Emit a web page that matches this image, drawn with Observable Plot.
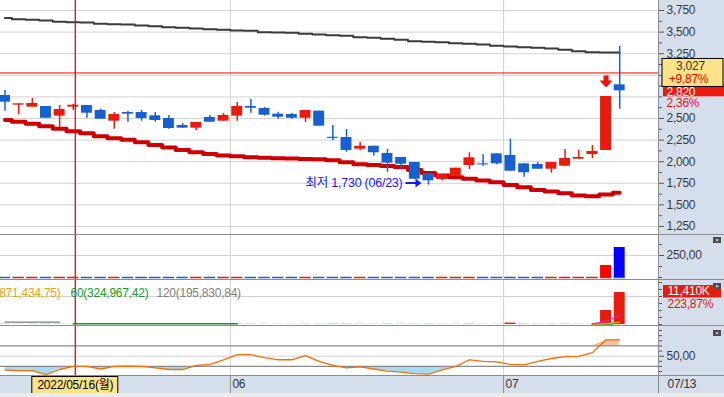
<!DOCTYPE html>
<html><head><meta charset="utf-8">
<script src="https://cdn.jsdelivr.net/npm/d3@7"></script>
<script src="https://cdn.jsdelivr.net/npm/@observablehq/plot@0.6"></script>
<style>
html,body{margin:0;padding:0;background:#fff;}
#chart{position:relative;width:724px;height:397px;overflow:hidden;background:#fff;}
.bg{position:absolute;background:#d5dfec;}
.sep{position:absolute;left:0;width:724px;height:0;border-top:1px solid #8c8c8c;z-index:5}
.vsep{position:absolute;left:658px;top:0;width:0;height:393px;border-left:1px solid #8c8c8c;z-index:5}
.foot{position:absolute;left:0;top:393px;width:724px;height:4px;background:#ebebeb;z-index:5}
.close{position:absolute;left:713px;width:8px;height:6px;background:#4a4a4a;color:#fff;font:6px/6px sans-serif;text-align:center;z-index:6}
svg{position:absolute;left:0;}
</style></head>
<body>
<div id="chart">
  <div class="bg" style="left:658px;top:0;width:66px;height:393px"></div>
  <div class="bg" style="left:0;top:375px;width:724px;height:18px"></div>
</div>
<script>
// ---------- data ----------
const dates = ["2022-05-09","2022-05-10","2022-05-11","2022-05-12","2022-05-13","2022-05-16","2022-05-17","2022-05-18","2022-05-19","2022-05-20",
"2022-05-23","2022-05-24","2022-05-25","2022-05-26","2022-05-27","2022-05-30","2022-05-31",
"2022-06-02","2022-06-03","2022-06-07","2022-06-08","2022-06-09","2022-06-10","2022-06-13","2022-06-14","2022-06-15","2022-06-16","2022-06-17",
"2022-06-20","2022-06-21","2022-06-22","2022-06-23","2022-06-24","2022-06-27","2022-06-28","2022-06-29","2022-06-30",
"2022-07-01","2022-07-04","2022-07-05","2022-07-06","2022-07-07","2022-07-08","2022-07-11","2022-07-12","2022-07-13"];
const open  = [2766,2654,2631,2639,2527,2631,2650,2593,2469,2569, 2569,2531,2500,2419,2388,2512,2469,2527,2639,2616, 2550,2546,2503,2585,2283,2280,2145,2179,2095,2049, 1991,1863,1794,1832,1956,1975,2091,2072,1975,1968, 1913,1948,2029,2083,2130,2890];
const high  = [2824,2670,2731,2639,2650,2666,2650,2608,2569,2581, 2593,2569,2535,2442,2454,2535,2558,2685,2720,2627, 2573,2558,2593,2585,2419,2373,2226,2179,2141,2049, 1991,1863,1848,1925,2103,2080,2091,2260,1975,1991, 1991,2141,2133,2188,2755,3333];
const low   = [2584,2543,2631,2503,2392,2593,2503,2492,2376,2457, 2469,2457,2376,2388,2361,2457,2469,2469,2561,2527, 2492,2492,2454,2411,2242,2110,2127,2064,1878,1918, 1797,1730,1779,1832,1910,1948,1964,1890,1820,1913, 1867,1948,2029,2034,2130,2608];
const close = [2689,2670,2674,2503,2604,2654,2561,2492,2546,2550, 2500,2477,2384,2388,2454,2457,2535,2639,2619,2538, 2515,2503,2593,2411,2270,2130,2179,2103,1983,1971, 1797,1779,1848,1925,2045,1963,1975,1890,1872,1913, 1991,2037,2049,2118,2755,2820];
const maLong  = [3663,3649,3642,3634,3619,3615,3611,3596,3591,3588,3576,3568,3557,3550,3542,3534,3527,3519,3515,3499,3495,3492,3480,3472,3464,3457,3441,3434,3422,3411,3395,3388,3383,3372,3365,3356,3341,3333,3325,3318,3310,3295,3279,3267,3264,3264];
const maShort = [2483,2462,2440,2410,2382,2353,2330,2295,2272,2253,2225,2193,2164,2135,2109,2089,2072,2062,2052,2046,2039,2036,2032,2029,2016,1993,1970,1961,1950,1939,1904,1868,1840,1821,1802,1782,1762,1730,1704,1672,1655,1634,1609,1601,1620,1640];
const indicator2 = [0,0,0,0,0,0,0,0,0,0, 0,0,0,0,0,0,0,0,0,0, 0,0,0,0,0,0,0,0,0,0, 0,0,0,0,0,0,0,0,0,0, 0,0,0,0,136,341];
const volumeK = [62,48,55,70,66,45,52,58,71,40, 44,39,68,35,50,42,47,81,60,43, 38,36,55,49,90,85,58,47,77,52, 64,70,46,53,88,41,39,500,72,44, 51,66,48,57,5000,11410];
const volMA5   = [null,null,null,null,null,null,null,null,null,null, null,null,null,null,null,null,null,null,null,null, null,null,null,null,null,null,null,null,null,null, null,null,null,null,null,null,null,null,null,null, null,null,null,200,1080,3310];
const volMA20  = [null,null,null,null,null,null,null,null,null,null, null,null,null,null,null,null,null,null,null,null, null,null,null,null,null,null,null,null,null,null, null,null,null,null,null,null,null,null,null,null, null,null,null,50,300,870];
const volMA60  = [null,null,null,null,null,250,250,250,250,250, 250,250,250,250,250,250,250,250,null,null, null,null,null,null,null,null,null,null,null,null, null,null,null,null,null,null,null,null,null,null, null,null,null,50,135,325];
const volMA120 = [820,820,820,820,820,null,null,null,null,null, null,null,null,null,null,null,null,null,null,null, null,null,null,null,null,null,null,null,null,null, null,null,null,null,null,null,null,null,null,null, null,null,null,null,null,null];
const volLegend = [{n:20, v:"871,434,75", c:"#f0a000"}, {n:60, v:"324,967,42", c:"#129a2a"}, {n:120, v:"195,830,84", c:"#808080"}];
const volChangeLabel = "223,87%";
const osc = [23,22,22,14,24,30,30,25,30,30.5, 30,27,24,24,32,34,43,53,53,47, 43,43,51,40,32,27,29,25,21,19, 16,15,23.5,30,43,40,39,34,33,40, 45.5,49,49.5,57,82,82];
const priceTicks = [1250,1500,1750,2000,2250,2500,2750,3000,3250,3500,3750];
const priceLabelTicks = [1250,1500,1750,2000,2250,2500,3250,3500,3750];
const priceMinor = [1375,1625,1875,2125,2375,2625,2875,3125,3375,3625];
const crossDate = "2022-05-16";
const crossPrice = 3027;
const signalDate = "2022-07-12";

// ---------- layout ----------
const W = 724, MR = 66, STEP = 13.66, X0 = 4.5;
const XDOM = [-X0 / STEP, (W - MR - X0) / STEP];
const FONT = '"Liberation Sans","Noto Sans CJK KR",sans-serif';
const UP = "#e81c0c", DOWN = "#1660d0", GRID = "#d2d2d2", CROSS = "#ff0000";
const chart = document.getElementById("chart");

const rows = dates.map((d, i) => ({i, date: d, open: open[i], high: high[i], low: low[i], close: close[i],
  maLong: maLong[i], maShort: maShort[i], ind: indicator2[i], vol: volumeK[i],
  m5: volMA5[i], m20: volMA20[i], m60: volMA60[i], m120: volMA120[i], osc: osc[i]}));
const col = d => d.close >= d.open ? UP : DOWN;
const monthStarts = rows.filter((d, i) => i > 0 && d.date.slice(5, 7) !== dates[i - 1].slice(5, 7)).map(d => d.i);
const crossIdx = dates.indexOf(crossDate);
const last = rows[rows.length - 1], prev = rows[rows.length - 2];
const minRow = rows.reduce((a, b) => b.low < a.low ? b : a);
const fmt = d3.format(",");
const dec2 = v => d3.format(".2f")(v).replace(".", ",");
const pct = v => d3.format(".2f")(v).replace(".", ",") + "%";
const lowLabel = `최저 ${fmt(minRow.low)} (${minRow.date.slice(5).replace("-", "/")})`;
const wk = ["일","월","화","수","목","금","토"];
const crossLabel = crossDate.replace(/-/g, "/") + "(" + wk[new Date(crossDate + "T00:00:00").getDay()] + ")";

const downArrow = {draw(c){c.moveTo(-2.5,-6);c.lineTo(2.5,-6);c.lineTo(2.5,-1);c.lineTo(6.5,-1);c.lineTo(0,6);c.lineTo(-6.5,-1);c.lineTo(-2.5,-1);c.closePath();}};
const rightArrow = {draw(c){c.moveTo(-16,-1);c.lineTo(-6,-1);c.lineTo(-6,-4.5);c.lineTo(0,0);c.lineTo(-6,4.5);c.lineTo(-6,1);c.lineTo(-16,1);c.closePath();}};

function panel(top, height, ydom, marks) {
  const opts = {width: W, height, marginLeft: 0, marginRight: MR, marginTop: 0, marginBottom: 0,
    x: {type: "linear", domain: XDOM, axis: null},
    color: {type: "identity"},
    style: {background: "transparent", fontFamily: FONT, fontSize: "12px", color: "#333", letterSpacing: "-0.25px"},
    marks};
  if (ydom) opts.y = {type: "linear", domain: ydom, axis: null};
  const svg = Plot.plot(opts);
  svg.style.position = "absolute"; svg.style.left = "0px"; svg.style.top = top + "px";
  chart.appendChild(svg);
}
const common = () => [Plot.ruleX(monthStarts, {x: d => d - 0.5, stroke: GRID})];
const crossX = () => Plot.ruleX([crossIdx], {x: d => d, dx: 2, stroke: CROSS, strokeWidth: 1.3});

// ---------- main price panel ----------
panel(0, 234, [1157.4, 3865.7], [
  Plot.ruleY(priceTicks, {stroke: GRID}),
  ...common(),
  Plot.line(rows, {x: "i", y: "maLong", stroke: "#3a3a3a", strokeWidth: 2, curve: "step"}),
  Plot.line(rows, {x: "i", y: "maShort", stroke: "#cc0000", strokeWidth: 4, curve: "step"}),
  Plot.ruleX(rows, {x: "i", y1: "low", y2: "high", stroke: col, strokeWidth: 1.5}),
  Plot.rect(rows, {x1: d => d.i - 0.4, x2: d => d.i + 0.4, y1: "open", y2: "close", fill: col}),
  crossX(),
  Plot.ruleY([crossPrice], {stroke: CROSS}),
  Plot.text([minRow], {x: "i", y: "low", text: () => lowLabel, textAnchor: "end", dx: -26, dy: -2, fill: "#1818f0", fontSize: 12.5}),
  Plot.dot([minRow], {x: "i", y: "low", symbol: rightArrow, fill: "#1818f0", stroke: "none", dx: -7, dy: -2}),
  Plot.dot(rows.filter(d => d.date === signalDate), {x: "i", y: "high", symbol: downArrow, fill: "#f01010", stroke: "none", dy: -15}),
  Plot.axisY(priceLabelTicks, {anchor: "right", tickSize: 5, tickPadding: 3, tickFormat: fmt, label: null, fill: "#3a3a3a", stroke: "#555"}),
  Plot.axisY([2750, 3000, ...priceMinor], {anchor: "right", tickSize: 3, tickFormat: () => "", label: null, stroke: "#555"}),
  Plot.rect([last.close], {y1: d => d, y2: d => d, insetTop: -6, insetBottom: -6, insetLeft: 663, insetRight: -66, fill: "#ea1a0c"}),
  Plot.text([last.close], {y: d => d, frameAnchor: "right", dx: 8, dy: 1, textAnchor: "start", fill: "white", text: fmt}),
  Plot.text([last.close], {y: d => d, frameAnchor: "right", dx: 8, dy: 12, textAnchor: "start", fill: "#e81010", text: () => pct((last.close / prev.close - 1) * 100)}),
  Plot.rect([crossPrice], {y1: d => d, y2: d => d, insetTop: -14, insetBottom: -14, insetLeft: 662, insetRight: -65, fill: "#fde388", stroke: "#000"}),
  Plot.text([crossPrice], {y: d => d, frameAnchor: "right", dx: 32, dy: -7, textAnchor: "middle", fill: "#333", text: fmt}),
  Plot.text([crossPrice], {y: d => d, frameAnchor: "right", dx: 30, dy: 6, textAnchor: "middle", fill: "#e80000", text: d => "+" + pct((d / prev.close - 1) * 100)})
]);

// ---------- panel 2 ----------
panel(234, 45, [-22.7, 488.6], [
  Plot.ruleY([250], {stroke: GRID}),
  ...common(),
  crossX(),
  Plot.ruleY(rows, {y: 0, x1: d => d.i - 0.42, x2: d => d.i + 0.42, stroke: col, strokeWidth: 1.5}),
  Plot.rect(rows.filter(d => d.ind > 0), {x1: d => d.i - 0.4, x2: d => d.i + 0.4, y1: 0, y2: "ind", fill: d => d.close >= d.open ? "#ff0000" : "#0000ff"}),
  Plot.axisY([250], {anchor: "right", tickSize: 5, tickPadding: 3, tickFormat: dec2, label: null, fill: "#3a3a3a", stroke: "#555"}),
  Plot.axisY([0, 125, 375], {anchor: "right", tickSize: 3, tickFormat: () => "", label: null, stroke: "#555"})
]);

// ---------- panel 3 (volume) ----------
panel(279, 46, [-357, 16065], [
  Plot.ruleY([10000], {stroke: GRID}),
  ...common(),
  crossX(),
  Plot.rect(rows, {x1: d => d.i - 0.4, x2: d => d.i + 0.4, y1: 0, y2: "vol", fill: UP}),
  Plot.line(rows, {x: "i", y: "m120", stroke: "#808080", strokeWidth: 1.3, curve: "step"}),
  Plot.line(rows, {x: "i", y: "m60", stroke: "#129a2a", strokeWidth: 1.5, curve: "step"}),
  Plot.line(rows, {x: "i", y: "m20", stroke: "#f0a000", strokeWidth: 1.3}),
  Plot.line(rows, {x: "i", y: "m5", stroke: "#e020d0", strokeWidth: 1.3}),
  Plot.text([volLegend[0]], {frameAnchor: "top-left", dy: 9, dx: 60, textAnchor: "end", text: d => `${d.n}(${d.v})`, fill: d => d.c}),
  Plot.text([volLegend[1]], {frameAnchor: "top-left", dy: 9, dx: 70, textAnchor: "start", text: d => `${d.n}(${d.v})`, fill: d => d.c}),
  Plot.text([volLegend[2]], {frameAnchor: "top-left", dy: 9, dx: 156, textAnchor: "start", text: d => `${d.n}(${d.v})`, fill: d => d.c}),
  Plot.axisY([0, 2500, 5000, 7500, 10000, 12500, 15000], {anchor: "right", tickSize: 3, tickFormat: () => "", label: null, stroke: "#555"}),
  Plot.rect([last.vol], {y1: d => d, y2: d => d, insetTop: -7, insetBottom: -5.5, insetLeft: 663, insetRight: -63, fill: "#ea1a0c"}),
  Plot.text([last.vol], {y: d => d, dy: -1, frameAnchor: "right", dx: 9, textAnchor: "start", fill: "white", text: d => fmt(d) + "K"}),
  Plot.text([last.vol], {y: d => d, dy: 12, frameAnchor: "right", dx: 9, textAnchor: "start", fill: "#e81010", text: () => volChangeLabel})
]);

// ---------- panel 4 (oscillator) ----------
panel(325, 50, [12.3, 109.9], [
  Plot.ruleY([50], {stroke: GRID}),
  ...common(),
  Plot.areaY(rows, {x: "i", y1: 30, y2: d => Math.min(d.osc, 30), fill: "#a4dbf0"}),
  Plot.areaY(rows, {x: "i", y1: 70, y2: d => Math.max(d.osc, 70), fill: "#f6c2a2"}),
  Plot.ruleY([30, 70], {stroke: "#8a8a8a", strokeWidth: 1.3}),
  crossX(),
  Plot.line(rows, {x: "i", y: "osc", stroke: "#ff6a00", strokeWidth: 1.3}),
  Plot.axisY([50], {anchor: "right", tickSize: 5, tickPadding: 3, tickFormat: dec2, label: null, fill: "#3a3a3a", stroke: "#555"}),
  Plot.axisY([20, 30, 40, 60, 70, 80, 90, 100], {anchor: "right", tickSize: 3, tickFormat: () => "", label: null, stroke: "#555"})
]);

// ---------- x axis strip ----------
panel(375, 19, null, [
  Plot.ruleX(monthStarts, {x: d => d - 0.5, stroke: "#8c8c8c"}),
  Plot.text(monthStarts, {x: d => d - 0.5, dx: 2, textAnchor: "start", frameAnchor: "middle", dy: -1, fill: "#333", text: d => dates[d].slice(5, 7)}),
  Plot.rect([crossIdx], {x1: d => d, x2: d => d, dx: 2, insetLeft: -43, insetRight: -43, insetTop: 1.5, insetBottom: 0.5, fill: "#fde388", stroke: "#000"}),
  Plot.text([crossIdx], {x: d => d, dx: 2, frameAnchor: "middle", textAnchor: "middle", fill: "#000", text: () => crossLabel}),
  Plot.text([last.date], {frameAnchor: "right", dx: 9, dy: -1, textAnchor: "start", fill: "#333", text: d => d.slice(5).replace("-", "/")})
]);

// ---------- frame decorations ----------
[234, 279, 325, 375].forEach(t => { const s = document.createElement("div"); s.className = "sep"; s.style.top = t + "px"; chart.appendChild(s); });
const v = document.createElement("div"); v.className = "vsep"; chart.appendChild(v);
const f = document.createElement("div"); f.className = "foot"; chart.appendChild(f);
[237, 283, 330].forEach(t => { const c = document.createElement("div"); c.className = "close"; c.style.top = t + "px"; c.textContent = "×"; chart.appendChild(c); });
</script>
</body></html>
